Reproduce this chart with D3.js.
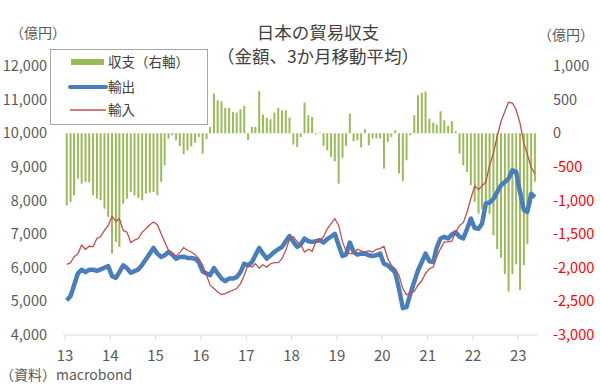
<!DOCTYPE html>
<html>
<head>
<meta charset="utf-8">
<script src="https://cdn.jsdelivr.net/npm/d3@7"></script>
<style>
    body { margin:0; background:#fff; }
    svg text { font-family:"Noto Sans CJK JP","Noto Sans",sans-serif; fill:#595959; }
</style>
</head>
<body>
<div id="chart"></div>
<script>
// 年ラベル(x軸)
var yearLabels = ["13","14","15","16","17","18","19","20","21","22","23"];
var leftTicks = [4000,5000,6000,7000,8000,9000,10000,11000,12000];
var rightTicks = [-3000,-2500,-2000,-1500,-1000,-500,0,500,1000];

// 収支(右軸) 2013年1月〜2023年5月
var balance = [
    -1071,-1022,-923,-675,-749,-724,-730,-923,-972,-997,
    -1121,-1245,-1790,-1617,-1692,-1047,-972,-873,-923,-962,
    -997,-898,-883,-873,-923,-724,-476,-79,-30,-104,
    -190,-310,-253,-198,-139,-55,-302,-89,94,590,
    491,476,377,377,317,307,357,407,-104,94,
    94,625,278,228,208,307,377,342,342,233,
    -168,-203,-55,456,268,243,-20,10,-188,-253,
    -352,-417,-749,-367,-188,293,-119,-104,-213,60,
    -178,-79,-79,-79,-526,-129,-55,45,-600,-709,
    -402,-30,268,565,600,620,218,159,129,327,
    193,109,179,30,-302,-476,-575,-774,-1022,-1195,
    -1131,-1047,-1200,-1520,-1720,-1850,-2095,-2356,-2095,-1950,
    -2330,-1960,-1650,-1050,-720
];
// 輸出
var exportsV = [
    5030,5160,5480,5830,5940,5870,5940,5940,5910,5950,
    6000,6050,5750,5700,5870,6070,5990,5850,5900,5950,
    6090,6250,6420,6590,6420,6320,6370,6470,6390,6270,
    6320,6330,6290,6290,6270,6170,5890,5830,5780,5990,
    5830,5680,5600,5680,5680,5720,5870,6120,6070,6170,
    6370,6590,6420,6270,6370,6470,6550,6620,6790,6940,
    6770,6620,6690,6870,6790,6770,6790,6820,6750,6850,
    6930,7010,6670,6350,6390,6750,6470,6390,6420,6420,
    6370,6350,6370,6420,6120,6070,5970,5850,5380,4800,
    4830,5230,5580,5920,6170,6420,6190,6170,6600,6870,
    6920,6870,6990,7060,6920,6870,7160,7460,7180,7160,
    7310,7910,7940,8050,8250,8450,8550,8650,8900,8850,
    8250,7720,7660,8200,8100
];
// 輸入
var importsV = [
    6100,6150,6320,6420,6670,6550,6640,6630,6870,6930,
    7110,7260,7530,7380,7460,7110,7060,6750,6820,6870,
    7060,7160,7280,7360,7280,7010,6770,6520,6420,6350,
    6450,6600,6520,6470,6390,6270,6070,5780,5480,5380,
    5280,5200,5230,5280,5330,5380,5530,5780,6090,6020,
    6120,5990,6090,6020,6120,6150,6150,6270,6520,6850,
    6920,6770,6690,6470,6550,6490,6770,6820,6920,7160,
    7310,7460,7260,6770,6500,6420,6420,6550,6500,6470,
    6500,6470,6550,6570,6640,6270,6070,5970,5780,5380,
    5200,5230,5300,5480,5620,5830,5970,6020,6320,6570,
    6770,6770,6790,7060,7260,7340,7660,8060,8430,8330,
    8430,8550,9050,9400,9900,10350,10650,10920,10900,10700,
    10300,9700,9380,8980,8800
];

var width = 600, height = 387;
var margin = {top:66, right:62, bottom:52, left:65};
var green = "#9bbb59", blue = "#4a7ebb", red = "#c0504d";

var svg = d3.select("#chart").append("svg")
    .attr("width", width).attr("height", height);

// 月の中央に点を置く
var months = balance.map(function(d, i){ return new Date(2013, i, 15); });

var x = d3.scaleTime()
    .domain([new Date(2013,0,1), new Date(2023,5,1)])
    .range([margin.left, width - margin.right - 1]);
var yL = d3.scaleLinear().domain([4000,12000]).range([height - margin.bottom, margin.top]);
var yR = d3.scaleLinear().domain([-3000,1000]).range([height - margin.bottom, margin.top]);

// 棒(収支)
svg.append("g").selectAll("rect").data(balance).enter().append("rect")
    .attr("x", function(d, i){ return x(months[i]) - 1; })
    .attr("width", 2)
    .attr("y", function(d){ return yR(Math.max(0, d)); })
    .attr("height", function(d){ return Math.abs(yR(d) - yR(0)); })
    .attr("fill", green);

// x軸
var axisY = height - margin.bottom;
var xAxis = svg.append("g").attr("transform", "translate(0," + axisY + ")");
xAxis.append("line")
    .attr("x1", margin.left - 2).attr("x2", width - margin.right)
    .attr("stroke", "#d9d9d9");
var years = d3.timeYear.range(new Date(2013,0,1), new Date(2024,0,1));
xAxis.selectAll("line.tk").data(years).enter().append("line")
    .attr("class", "tk")
    .attr("x1", function(d){ return x(d); }).attr("x2", function(d){ return x(d); })
    .attr("y1", 0).attr("y2", 5)
    .attr("stroke", "#d9d9d9");
xAxis.selectAll("text").data(years).enter().append("text")
    .attr("x", function(d){ return x(d); })
    .attr("y", 26)
    .attr("text-anchor", "middle")
    .style("font-size", "15px")
    .text(function(d, i){ return yearLabels[i]; });

// 線
var lineL = d3.line()
    .x(function(d, i){ return x(months[i]); })
    .y(function(d){ return yL(d); });
svg.append("path").datum(exportsV)
    .attr("d", lineL).attr("fill", "none")
    .attr("stroke", blue).attr("stroke-width", 4.5)
    .attr("stroke-linejoin", "round");
svg.append("path").datum(importsV)
    .attr("d", lineL).attr("fill", "none")
    .attr("stroke", red).attr("stroke-width", 1.3);

// 左軸ラベル
svg.append("g").selectAll("text").data(leftTicks).enter().append("text")
    .attr("x", 47)
    .attr("y", function(d){ return yL(d); })
    .attr("dy", "0.35em")
    .attr("text-anchor", "end")
    .style("font-size", "14.5px")
    .text(function(d){ return d3.format(",")(d); });

// 右軸ラベル(負は赤)
svg.append("g").selectAll("text").data(rightTicks).enter().append("text")
    .attr("x", 553)
    .attr("y", function(d){ return yR(d); })
    .attr("dy", "0.35em")
    .style("font-size", "14.5px")
    .style("fill", function(d){ return d < 0 ? "#ff0000" : "#595959"; })
    .text(function(d){ return d3.format(",")(d).replace("−", "-"); });

// 単位
svg.append("text").attr("x", 10).attr("y", 38).style("font-size", "14px").text("（億円）");
svg.append("text").attr("x", 538).attr("y", 40).style("font-size", "14px").text("（億円）");

// タイトル
svg.append("text").attr("x", 318).attr("y", 39)
    .attr("text-anchor", "middle")
    .style("font-size", "17.5px").style("fill", "#404040")
    .text("日本の貿易収支");
svg.append("text").attr("x", 318).attr("y", 63)
    .attr("text-anchor", "middle")
    .style("font-size", "17.5px").style("fill", "#404040")
    .text("（金額、3か月移動平均）");

// 凡例
var lg = svg.append("g");
lg.append("rect").attr("x", 50.5).attr("y", 49.5).attr("width", 157).attr("height", 75)
    .attr("fill", "#fff").attr("stroke", "#a6a6a6");
lg.append("rect").attr("x", 71).attr("y", 59).attr("width", 33).attr("height", 6).attr("fill", green);
lg.append("line").attr("x1", 70).attr("x2", 106).attr("y1", 87).attr("y2", 87)
    .attr("stroke", blue).attr("stroke-width", 4).attr("stroke-linecap", "round");
lg.append("line").attr("x1", 70).attr("x2", 106).attr("y1", 110).attr("y2", 110)
    .attr("stroke", red).attr("stroke-width", 1.5);
var legendNames = ["収支（右軸）", "輸出", "輸入"];
lg.selectAll("text.lg").data(legendNames).enter().append("text")
    .attr("class", "lg")
    .attr("x", 108)
    .attr("y", function(d, i){ return [62, 87, 110][i]; })
    .attr("dy", "0.35em")
    .style("font-size", "13.5px")
    .style("fill", "#404040")
    .text(function(d){ return d; });

// 資料
svg.append("text").attr("x", 0).attr("y", 380).style("font-size", "14px").text("（資料）macrobond");
</script>
</body>
</html>
